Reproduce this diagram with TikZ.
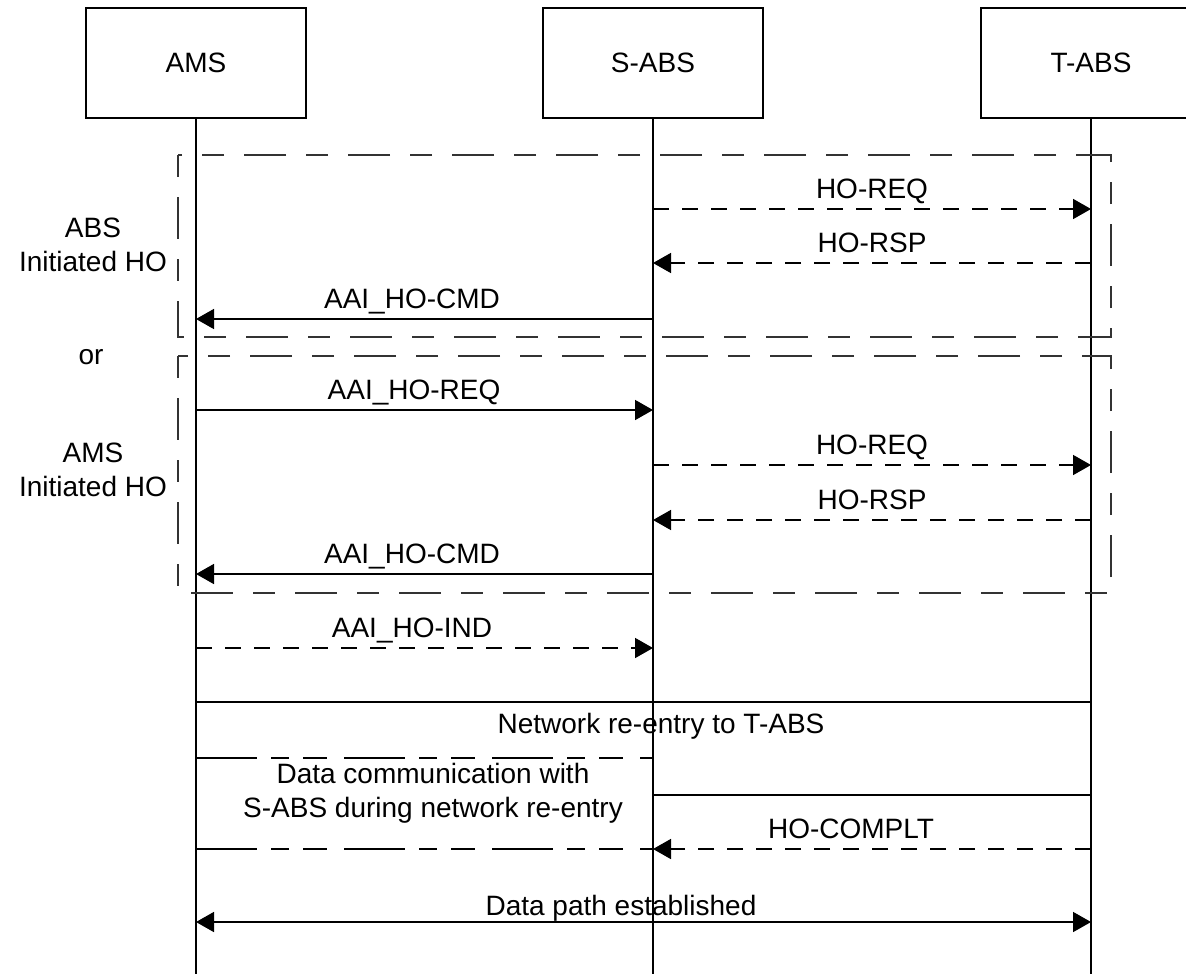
\documentclass[tikz,border=0pt]{standalone}
\usepackage{fontspec}
\setmainfont{Liberation Sans}
\usetikzlibrary{arrows.meta}
\begin{document}
\begin{tikzpicture}[x=0.5pt,y=-0.5pt,
  every node/.style={font=\fontsize{14pt}{17pt}\selectfont, inner sep=0pt},
  pbox/.style={draw, line width=0.9pt, minimum width=110pt, minimum height=55pt},
  life/.style={line width=0.8pt},
  msg/.style={line width=0.8pt, -{Triangle[length=9pt,width=10pt]}},
  dmsg/.style={msg, dash pattern=on 8pt off 6.5pt},
  solidline/.style={line width=0.8pt},
  dline/.style={line width=0.8pt, dash pattern=on 30.5pt off 7pt on 9pt off 7pt on 12pt off 8.5pt},
  framebox/.style={line width=0.9pt, draw=black!80, dash pattern=on 11pt off 10pt on 21pt off 10pt},
  lbl/.style={anchor=base},
  side/.style={align=center}]
\useasboundingbox (0,0) rectangle (1186,974);

% participants
\node[pbox] (ams) at (196,63) {AMS};
\node[pbox] (sabs) at (653,63) {S-ABS};
\node[pbox] (tabs) at (1091,63) {T-ABS};
\coordinate (amsend) at (196,974);
\coordinate (sabsend) at (653,974);
\coordinate (tabsend) at (1091,974);
\draw[life] (ams.south) -- (amsend);
\draw[life] (sabs.south) -- (sabsend);
\draw[life] (tabs.south) -- (tabsend);

% frames
\draw[framebox] (178,155) rectangle (1111,337);
\draw[framebox] (178,356) rectangle (1111,593);

% side labels
\node[side] (abslbl) at (93,245) {ABS\\Initiated HO};
\node (orlbl) at (91,357) {or};
\node[side] (amslbl) at (93,470) {AMS\\Initiated HO};

% ABS initiated
\draw[dmsg] (sabs |- 0,209) -- (tabs |- 0,209);
\node[lbl] (m1) at (872,198) {HO-REQ};
\draw[dmsg] (tabs |- 0,263) -- (sabs |- 0,263);
\node[lbl] (m2) at (872,252) {HO-RSP};
\draw[msg] (sabs |- 0,319) -- (ams |- 0,319);
\node[lbl] (m3) at (412,308) {AAI\_HO-CMD};

% AMS initiated
\draw[msg] (ams |- 0,410) -- (sabs |- 0,410);
\node[lbl] (m4) at (414,399) {AAI\_HO-REQ};
\draw[dmsg] (sabs |- 0,465) -- (tabs |- 0,465);
\node[lbl] (m5) at (872,454) {HO-REQ};
\draw[dmsg] (tabs |- 0,520) -- (sabs |- 0,520);
\node[lbl] (m6) at (872,509) {HO-RSP};
\draw[msg] (sabs |- 0,574) -- (ams |- 0,574);
\node[lbl] (m7) at (412,563) {AAI\_HO-CMD};

\draw[dmsg] (ams |- 0,648) -- (sabs |- 0,648);
\node[lbl] (m8) at (412,637) {AAI\_HO-IND};

% network re-entry
\draw[solidline] (ams |- 0,702) -- (tabs |- 0,702);
\node[lbl] (m9) at (661,733) {Network re-entry to T-ABS};
\draw[solidline] (sabs |- 0,795) -- (tabs |- 0,795);

% data communication box
\draw[dline] (ams |- 0,758) -- (sabs |- 0,758);
\node[side] (m10) at (433,793) {Data communication with\\S-ABS during network re-entry};
\draw[dline] (ams |- 0,849) -- (sabs |- 0,849);

\draw[dmsg] (tabs |- 0,849) -- (sabs |- 0,849);
\node[lbl] (m11) at (851,838) {HO-COMPLT};

% data path
\draw[line width=0.8pt, {Triangle[length=9pt,width=10pt]}-{Triangle[length=9pt,width=10pt]}] (ams |- 0,922) -- (tabs |- 0,922);
\node[lbl] (m12) at (621,915) {Data path established};
\end{tikzpicture}
\end{document}
